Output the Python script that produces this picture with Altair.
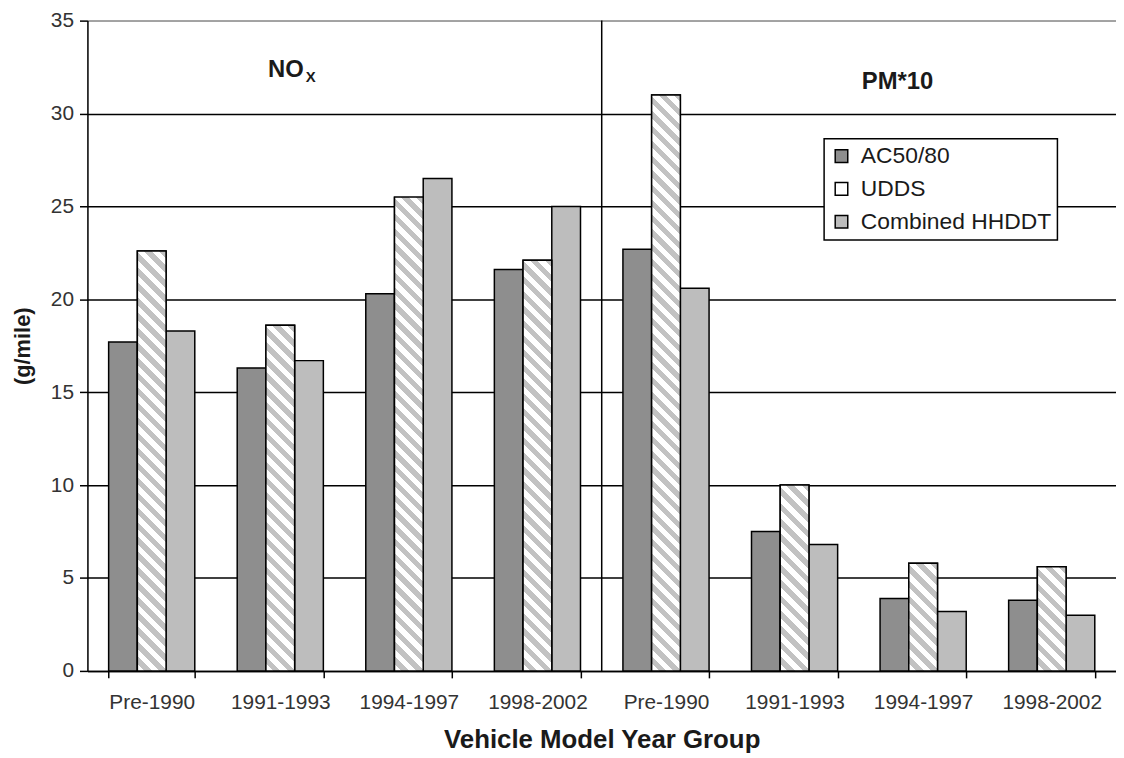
import altair as alt
import pandas as pd

# ---- data ----
groups = ["Pre-1990", "1991-1993", "1994-1997", "1998-2002"]
pollutants = ["NOx", "PM*10"]
series = ["AC50/80", "UDDS", "Combined HHDDT"]

nox_ac50 = [17.7, 16.3, 20.3, 21.6]
nox_udds = [22.6, 18.6, 25.5, 22.1]
nox_hhddt = [18.3, 16.7, 26.5, 25.0]

pm_ac50 = [22.7, 7.5, 3.9, 3.8]
pm_udds = [31.0, 10.0, 5.8, 5.6]
pm_hhddt = [20.6, 6.8, 3.2, 3.0]

y_ticks = [0, 5, 10, 15, 20, 25, 30, 35]

# ---- layout / style constants ----
PLOT_W = 1036
PLOT_H = 655
Y_MAX = 35
PAD_INNER = 0.33
STRIPE_PERIOD = 15.0
STRIPE_COLOR = "#c2c2c2"
FONT = "Liberation Sans"

colors = ["#8e8e8e", "#ffffff", "#bdbdbd"]

values_by = {
    ("NOx", "AC50/80"): nox_ac50,
    ("NOx", "UDDS"): nox_udds,
    ("NOx", "Combined HHDDT"): nox_hhddt,
    ("PM*10", "AC50/80"): pm_ac50,
    ("PM*10", "UDDS"): pm_udds,
    ("PM*10", "Combined HHDDT"): pm_hhddt,
}

step = PLOT_W / (len(groups) * len(pollutants))
bar_w = step * (1 - PAD_INNER) / len(series)


def stripe_gradient(value):
    """Diagonal stripe fill for a bar, built as a hard-stop linear gradient."""
    w = bar_w
    h = value / Y_MAX * PLOT_H
    k = (w + h) / (w * w + h * h)
    n = max(1, int(round((w + h) / STRIPE_PERIOD)))
    stops = []
    for i in range(n):
        a = i / n
        b = (i + 0.5) / n
        c = (i + 1) / n
        stops += [
            {"offset": a, "color": "#ffffff"},
            {"offset": b, "color": "#ffffff"},
            {"offset": b, "color": STRIPE_COLOR},
            {"offset": c, "color": STRIPE_COLOR},
        ]
    return {
        "gradient": "linear",
        "x1": 0, "y1": 1,
        "x2": k * w, "y2": 1 - k * h,
        "stops": stops,
    }


keys = []
rows = []
for p in pollutants:
    for gi, g in enumerate(groups):
        key = p + "|" + g
        keys.append(key)
        for s in series:
            v = values_by[(p, s)][gi]
            rows.append({"key": key, "series": s, "value": v,
                         "grad": stripe_gradient(v) if s == "UDDS" else None})

bars_data = alt.Data(values=rows)
udds_rows = [r for r in rows if r["series"] == "UDDS"]

x_enc = alt.X(
    "key:N",
    sort=keys,
    scale=alt.Scale(domain=keys, paddingInner=PAD_INNER, paddingOuter=PAD_INNER / 2),
    axis=alt.Axis(
        title="Vehicle Model Year Group",
        labelExpr="split(datum.label, '|')[1]",
        labelFont=FONT, labelFontSize=21, labelColor="#333333",
        labelPadding=14, labelAngle=0,
        tickBand="extent", tickSize=7, tickColor="black", tickWidth=1.5,
        domainColor="black", domainWidth=1.5,
        titleFont=FONT, titleFontSize=26, titleFontWeight="bold", titleColor="#1a1a1a",
        titleX=PLOT_W / 2, titleY=56, titleBaseline="top",
        grid=False,
    ),
)
y_enc = alt.Y(
    "value:Q",
    scale=alt.Scale(domain=[0, Y_MAX], nice=False),
    axis=alt.Axis(
        title="(g/mile)",
        values=y_ticks,
        labelFont=FONT, labelFontSize=21, labelColor="#333333", labelPadding=6,
        tickSize=8, tickColor="black", tickWidth=1.5,
        domainColor="black", domainWidth=1.5,
        grid=True,
        gridColor={"condition": {"test": "datum.value === 35", "value": "#8a8a8a"}, "value": "black"},
        gridWidth=1.5,
        titleFont=FONT, titleFontSize=22, titleFontWeight="bold", titleColor="#1a1a1a",
        titleX=-53, titleY=PLOT_H / 2,
    ),
)
xoff = alt.XOffset("series:N", sort=series, scale=alt.Scale(domain=series, paddingInner=0, paddingOuter=0))

base_bars = alt.Chart(bars_data).mark_bar(stroke="black", strokeWidth=1.5).encode(
    x=x_enc,
    y=y_enc,
    xOffset=xoff,
    fill=alt.Fill(
        "series:N",
        sort=series,
        scale=alt.Scale(domain=series, range=colors),
        legend=alt.Legend(
            title=None, orient="none", legendX=742, legendY=119,
            direction="vertical",
            fillColor="white", strokeColor="black",
            padding=6, rowPadding=9,
            symbolType="square", symbolSize=160, symbolStrokeColor="black",
            symbolStrokeWidth=1.5, symbolOffset=0,
            labelFont=FONT, labelFontSize=23, labelColor="#1a1a1a", labelOffset=8,
            labelLimit=400,
        ),
    ),
)

striped = alt.Chart(alt.Data(values=udds_rows)).mark_bar(stroke="black", strokeWidth=1.5).encode(
    x=alt.X("key:N", sort=keys),
    y=alt.Y("value:Q"),
    xOffset=alt.XOffset("series:N", sort=series),
    fill=alt.Fill("grad", type="nominal", scale=None, legend=None),
)

# divider sits midway in the gap before the first PM*10 group
divider = alt.Chart(alt.Data(values=[{"key": keys[len(groups)]}])).mark_rule(
    color="black", strokeWidth=1.5, xOffset=-(PAD_INNER / 2) * step
).encode(
    x=alt.X("key:N", sort=keys, bandPosition=0),
)

panel_titles = [
    {"text": "NO", "px": 182, "py": 57, "size": 24},
    {"text": "X", "px": 220, "py": 62, "size": 15},
    {"text": "PM*10", "px": 780, "py": 69, "size": 24},
]
titles = alt.layer(*[
    alt.Chart(alt.Data(values=[t])).mark_text(
        font=FONT, fontWeight="bold", fontSize=t["size"], color="#1a1a1a",
        align="left", baseline="alphabetic",
    ).encode(x=alt.value(t["px"]), y=alt.value(t["py"]), text="text:N")
    for t in panel_titles
])

chart = alt.layer(base_bars, striped, divider, titles).properties(
    width=PLOT_W,
    height=PLOT_H,
    autosize=alt.AutoSizeParams(type="none"),
    padding={"left": 80, "top": 10, "right": 0, "bottom": 84},
).configure_view(stroke=None).configure(background="white").configure_legend(strokeWidth=1.5)

chart.save("out.html", embed_options={"renderer": "svg", "actions": False})
